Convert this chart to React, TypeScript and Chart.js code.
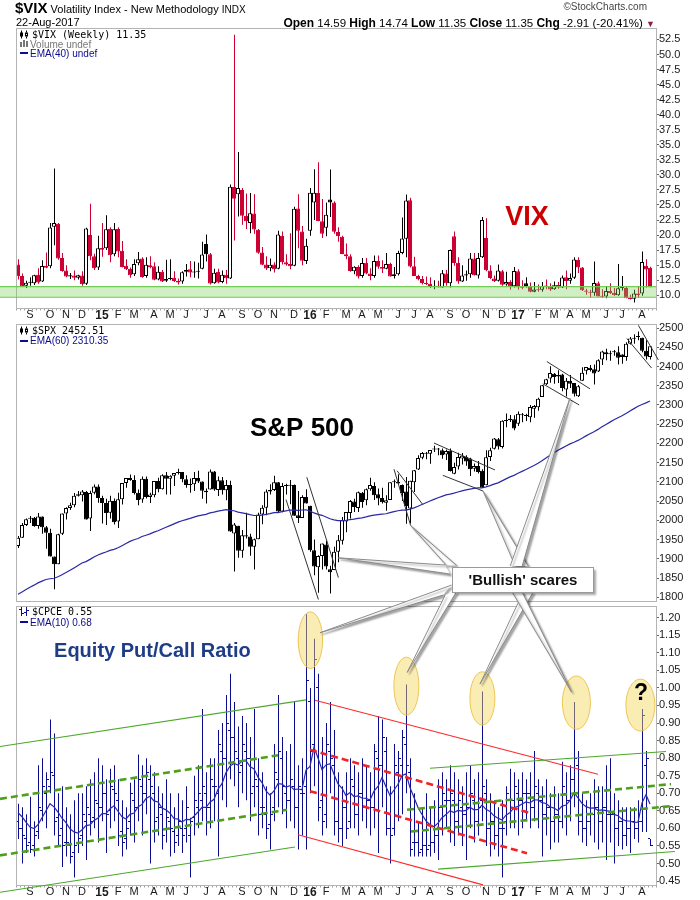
import React, { useEffect, useRef } from 'react';
import { Chart, registerables } from 'chart.js';

Chart.register(...registerables);

const FONT = '"Liberation Sans", Arial, Helvetica, sans-serif';
const MONO = '"DejaVu Sans Mono", "Liberation Mono", monospace';

// ---------- categories ----------
const FIRST_WEEK = Date.UTC(2014, 7, 11);
const WEEK_SLOTS = 160;
const MONTH_INITIALS = ['J', 'F', 'M', 'A', 'M', 'J', 'J', 'A', 'S', 'O', 'N', 'D'];

// ---------- tick labels ----------
const VIX_TICKS = [10, 12.5, 15, 17.5, 20, 22.5, 25, 27.5, 30, 32.5, 35, 37.5, 40, 42.5, 45, 47.5, 50, 52.5];
const SPX_TICKS = [1800, 1850, 1900, 1950, 2000, 2050, 2100, 2150, 2200, 2250, 2300, 2350, 2400, 2450, 2500];
const CPCE_TICKS = [0.45, 0.5, 0.55, 0.6, 0.65, 0.7, 0.75, 0.8, 0.85, 0.9, 0.95, 1.0, 1.05, 1.1, 1.15, 1.2];

// ---------- $VIX weekly ----------
const VIX_PREV_CLOSE = 15.77;
const VIX_OPEN = [
  15.1, 13.2, 11.6, 12.1, 12.0, 13.4, 12.3, 14.9, 14.8, 21.4,
  21.9, 16.2, 14.1, 13.1, 13.3, 12.9, 13.3, 11.9, 20.0, 16.5,
  14.6, 17.9, 17.8, 21.0, 16.8, 21.0, 17.4, 14.9, 14.4, 13.5,
  15.3, 16.1, 13.2, 15.0, 14.8, 12.6, 13.9, 12.4, 12.7, 12.9,
  12.4, 12.3, 13.9, 14.3, 13.8, 13.9, 14.4, 18.5, 16.8, 12.0,
  13.9, 12.2, 13.4, 12.8, 28.0, 26.8, 27.5, 23.2, 22.0, 23.6,
  20.9, 17.1, 15.1, 14.5, 15.1, 14.4, 19.9, 15.5, 15.2, 14.9,
  24.4, 20.6, 15.7, 20.7, 25.4, 27.0, 22.3, 21.2, 25.9, 25.4,
  20.5, 19.7, 16.8, 16.5, 14.0, 14.7, 13.2, 15.4, 13.6, 13.2,
  15.7, 14.7, 14.4, 15.2, 13.2, 13.5, 17.0, 19.4, 25.8, 14.8,
  13.2, 12.7, 12.0, 11.9, 11.4, 11.6, 11.3, 13.6, 12.0, 19.8,
  15.4, 12.3, 13.3, 13.5, 16.1, 13.3, 16.3, 19.5, 14.1, 12.8,
  12.4, 14.0, 11.8, 12.2, 11.5, 14.0, 11.4, 12.0, 11.5, 10.6,
  11.0, 10.9, 11.5, 11.5, 11.0, 11.7, 11.3, 13.0, 12.4, 12.9,
  15.9, 14.6, 10.8, 10.6, 10.4, 12.0, 9.8, 9.8, 10.7, 10.4,
  10.0, 11.2, 11.2, 9.5, 9.4, 10.3, 10.3, 14.9, 14.59,
];
const VIX_HIGH = [
  16.0, 13.6, 12.4, 13.0, 13.4, 14.5, 15.8, 17.1, 22.0, 31.06,
  22.0, 17.0, 15.0, 13.7, 14.1, 13.4, 14.0, 21.2, 25.2, 16.9,
  19.9, 22.0, 23.3, 21.3, 22.0, 21.3, 19.0, 16.0, 14.6, 16.0,
  17.2, 16.3, 16.3, 16.5, 15.5, 14.8, 14.2, 15.9, 16.0, 14.0,
  12.8, 14.0, 15.2, 15.7, 15.6, 15.4, 18.9, 20.1, 17.0, 14.4,
  14.4, 14.1, 14.2, 28.4, 53.29, 33.8, 27.8, 26.9, 27.0, 26.8,
  21.0, 18.0, 16.5, 16.1, 15.5, 20.7, 20.6, 16.8, 20.3, 24.7,
  26.8, 21.5, 19.4, 27.8, 30.95, 32.09, 26.0, 25.4, 30.9, 25.6,
  21.3, 19.9, 18.6, 16.8, 14.8, 15.0, 16.2, 16.2, 14.5, 16.6,
  16.6, 15.8, 17.0, 15.4, 14.7, 17.4, 22.9, 26.72, 26.2, 16.4,
  13.4, 13.2, 13.1, 13.0, 12.5, 12.4, 14.2, 14.2, 17.6, 20.6,
  16.3, 15.0, 14.1, 17.0, 17.0, 17.0, 23.0, 22.8, 15.0, 13.3,
  15.1, 14.2, 13.9, 12.5, 14.7, 14.3, 12.5, 13.0, 12.1, 12.2,
  11.8, 12.2, 12.6, 12.0, 12.3, 12.2, 13.3, 14.1, 13.6, 16.3,
  16.3, 14.7, 11.1, 10.9, 15.6, 12.3, 11.0, 11.5, 12.0, 11.2,
  15.2, 13.2, 11.5, 10.1, 10.9, 11.5, 17.28, 16.0, 14.74,
];
const VIX_LOW = [
  12.6, 11.4, 11.2, 11.6, 11.7, 11.9, 12.2, 14.5, 14.5, 18.3,
  15.9, 13.9, 13.0, 12.7, 12.5, 12.6, 11.6, 11.7, 15.8, 14.2,
  14.2, 16.4, 17.5, 15.5, 16.5, 16.3, 14.6, 14.2, 12.9, 13.2,
  15.0, 12.9, 12.9, 14.5, 12.5, 12.5, 12.2, 12.2, 12.5, 12.2,
  11.8, 11.9, 13.1, 13.0, 12.9, 12.8, 14.3, 15.6, 11.8, 11.9,
  12.0, 12.0, 11.9, 12.7, 19.1, 23.1, 21.7, 21.0, 20.3, 20.2,
  16.9, 15.0, 14.2, 14.0, 13.8, 14.3, 15.1, 14.9, 14.3, 14.8,
  17.8, 15.0, 15.2, 19.9, 22.5, 22.3, 19.5, 19.8, 23.0, 20.2,
  18.9, 16.8, 16.0, 13.9, 13.5, 12.8, 12.9, 13.5, 12.5, 12.9,
  14.4, 13.7, 14.3, 13.1, 12.8, 13.3, 16.8, 16.3, 14.6, 13.2,
  12.5, 11.8, 11.7, 11.2, 11.0, 11.3, 11.3, 11.6, 11.3, 14.9,
  11.9, 12.2, 12.4, 12.9, 13.3, 12.8, 16.2, 14.0, 12.7, 12.2,
  12.3, 11.6, 11.6, 10.9, 11.3, 10.9, 11.0, 11.3, 10.5, 10.5,
  10.6, 10.6, 11.0, 10.7, 10.9, 11.1, 11.2, 11.0, 11.9, 12.7,
  13.7, 10.7, 10.1, 9.6, 9.9, 9.8, 9.6, 9.5, 10.2, 9.9,
  9.9, 10.8, 9.5, 9.3, 8.8, 9.6, 9.9, 11.3, 11.35,
];
const VIX_CLOSE = [
  13.15, 11.47, 12.09, 12.09, 13.31, 12.11, 14.85, 14.55, 21.24, 21.99,
  16.11, 14.03, 13.12, 13.31, 12.90, 13.33, 11.82, 21.08, 16.49, 14.50,
  17.79, 17.55, 20.95, 16.66, 20.97, 17.29, 14.69, 14.30, 13.34, 15.20,
  16.00, 13.02, 15.07, 14.67, 12.58, 13.89, 12.29, 12.70, 12.86, 12.38,
  12.13, 13.84, 14.21, 13.78, 13.96, 14.02, 16.79, 16.83, 11.95, 13.74,
  12.12, 13.39, 12.83, 28.03, 26.05, 27.80, 23.20, 22.28, 23.62, 20.94,
  17.08, 15.05, 14.46, 15.07, 14.33, 20.08, 15.47, 15.12, 14.81, 24.39,
  20.70, 15.74, 18.21, 27.01, 27.02, 22.34, 20.20, 23.38, 25.40, 20.53,
  19.81, 16.86, 16.50, 14.02, 14.74, 13.10, 15.36, 13.62, 13.22, 15.70,
  14.72, 14.41, 15.20, 13.12, 13.47, 17.03, 19.41, 25.76, 14.77, 13.20,
  12.67, 12.02, 11.87, 11.39, 11.55, 11.34, 13.65, 11.98, 17.50, 15.37,
  12.29, 13.29, 13.48, 16.12, 13.34, 16.19, 22.51, 14.17, 12.85, 12.34,
  14.12, 11.75, 12.20, 11.44, 14.04, 11.32, 11.23, 11.54, 10.58, 10.97,
  10.85, 11.49, 11.47, 10.96, 11.66, 11.28, 12.96, 12.37, 12.87, 15.96,
  14.63, 10.82, 10.57, 10.40, 12.04, 9.81, 9.75, 10.70, 10.38, 10.02,
  11.18, 11.19, 9.51, 9.36, 10.29, 10.03, 15.51, 14.26, 11.35,
];
const VIX_BAND = [9.67, 11.43];

// ---------- $SPX weekly ----------
const SPX_EMA_SEED = 1808;
const SPX_OPEN = [
  1933, 1955, 1988, 2004, 2007, 1985, 2010, 1982, 1968, 1906,
  1886, 1965, 2018, 2032, 2039, 2064, 2065, 2074, 2005, 2072,
  2088, 2058, 2045, 2020, 2050, 1997, 2055, 2097, 2110, 2105,
  2072, 2054, 2108, 2061, 2065, 2102, 2081, 2117, 2108, 2116,
  2123, 2126, 2107, 2092, 2094, 2110, 2101, 2073, 2080, 2127,
  2079, 2104, 2078, 2092, 1966, 1986, 1921, 1961, 1958, 1931,
  1951, 2015, 2033, 2075, 2079, 2099, 2023, 2089, 2090, 2092,
  2013, 2006, 2061, 2038, 1922, 1878, 1907, 1937, 1873, 1871,
  1918, 1947, 1997, 2019, 2049, 2032, 2072, 2052, 2081, 2089,
  2068, 2058, 2046, 2053, 2100, 2100, 2092, 2075, 2031, 2099,
  2132, 2163, 2176, 2173, 2184, 2185, 2182, 2171, 2181, 2121,
  2140, 2161, 2165, 2161, 2134, 2141, 2129, 2091, 2165, 2186,
  2211, 2191, 2259, 2260, 2263, 2251, 2273, 2272, 2268, 2290,
  2294, 2321, 2354, 2369, 2381, 2374, 2379, 2340, 2363, 2357,
  2323, 2363, 2389, 2397, 2393, 2387, 2418, 2437, 2432, 2437,
  2437, 2431, 2425, 2459, 2473, 2477, 2475, 2441, 2425,
];
const SPX_HIGH = [
  1959, 1993, 2005, 2011, 2009, 2019, 2010, 1985, 1978, 1906,
  1965, 2018, 2034, 2046, 2071, 2076, 2079, 2076, 2077, 2093,
  2093, 2064, 2056, 2064, 2057, 2072, 2097, 2110, 2119, 2117,
  2080, 2114, 2114, 2072, 2102, 2111, 2120, 2126, 2117, 2123,
  2134, 2126, 2117, 2109, 2126, 2129, 2101, 2083, 2132, 2128,
  2114, 2113, 2105, 2103, 1993, 1986, 1975, 2020, 1965, 1953,
  2020, 2039, 2080, 2094, 2116, 2100, 2097, 2095, 2105, 2093,
  2076, 2065, 2081, 2038, 1950, 1909, 1940, 1947, 1882, 1931,
  1962, 2009, 2022, 2053, 2056, 2075, 2074, 2083, 2111, 2099,
  2083, 2085, 2065, 2099, 2106, 2120, 2093, 2113, 2103, 2131,
  2169, 2178, 2178, 2183, 2194, 2188, 2187, 2184, 2187, 2150,
  2176, 2175, 2169, 2163, 2148, 2154, 2133, 2182, 2189, 2214,
  2214, 2260, 2278, 2274, 2273, 2283, 2279, 2277, 2300, 2300,
  2319, 2352, 2368, 2401, 2383, 2390, 2381, 2370, 2378, 2357,
  2352, 2398, 2399, 2404, 2405, 2419, 2441, 2446, 2441, 2443,
  2453, 2432, 2463, 2477, 2484, 2491, 2475, 2468, 2453,
];
const SPX_LOW = [
  1928, 1955, 1985, 1993, 1983, 1978, 1965, 1926, 1906, 1821,
  1886, 1962, 2002, 2027, 2034, 2062, 2049, 2002, 1972, 2068,
  2046, 1992, 1988, 2005, 1989, 1980, 2041, 2085, 2103, 2067,
  2039, 2046, 2057, 2045, 2060, 2073, 2080, 2067, 2067, 2089,
  2119, 2099, 2085, 2072, 2076, 2097, 2056, 2044, 2080, 2077,
  2063, 2067, 2052, 1970, 1867, 1903, 1903, 1953, 1908, 1872,
  1951, 1990, 2013, 2067, 2076, 2022, 2021, 2067, 2042, 2012,
  1993, 2006, 2044, 1918, 1857, 1812, 1872, 1872, 1810, 1871,
  1891, 1937, 1969, 2005, 2022, 2022, 2033, 2039, 2077, 2053,
  2039, 2044, 2025, 2053, 2085, 2095, 2050, 1991, 1992, 2074,
  2131, 2159, 2159, 2147, 2178, 2169, 2160, 2157, 2127, 2120,
  2132, 2145, 2142, 2115, 2127, 2122, 2084, 2091, 2154, 2184,
  2184, 2187, 2242, 2256, 2234, 2245, 2255, 2258, 2255, 2267,
  2285, 2321, 2352, 2358, 2355, 2357, 2336, 2322, 2344, 2322,
  2321, 2363, 2379, 2387, 2353, 2386, 2404, 2416, 2415, 2428,
  2405, 2407, 2415, 2457, 2459, 2468, 2437, 2418, 2418,
];
const SPX_CLOSE = [
  1955, 1988, 2003, 2007, 1985, 2010, 1982, 1968, 1906, 1886,
  1964, 2018, 2032, 2039, 2064, 2068, 2075, 2002, 2071, 2088,
  2058, 2045, 2019, 2051, 1995, 2055, 2097, 2110, 2105, 2071,
  2053, 2108, 2061, 2067, 2102, 2081, 2117, 2108, 2116, 2123,
  2126, 2107, 2092, 2094, 2110, 2101, 2077, 2077, 2127, 2080,
  2104, 2078, 2092, 1971, 1989, 1921, 1961, 1958, 1931, 1951,
  2015, 2033, 2075, 2079, 2099, 2023, 2089, 2090, 2092, 2012,
  2006, 2061, 2044, 1922, 1880, 1907, 1940, 1880, 1865, 1918,
  1948, 2000, 2022, 2050, 2035, 2073, 2048, 2081, 2092, 2065,
  2057, 2047, 2052, 2099, 2099, 2096, 2071, 2037, 2103, 2130,
  2162, 2175, 2173, 2183, 2184, 2184, 2169, 2180, 2128, 2139,
  2165, 2168, 2153, 2133, 2141, 2126, 2085, 2164, 2182, 2213,
  2192, 2259, 2258, 2264, 2239, 2277, 2275, 2271, 2295, 2297,
  2316, 2351, 2367, 2383, 2373, 2378, 2344, 2363, 2355, 2329,
  2349, 2384, 2399, 2391, 2382, 2416, 2439, 2432, 2433, 2438,
  2423, 2425, 2459, 2473, 2472, 2477, 2441, 2426, 2452.51,
];

// ---------- $CPCE weekly ----------
const CPCE_EMA_SEED = 0.645;
const CPCE_OPEN = [
  0.62, 0.60, 0.57, 0.56, 0.55, 0.59, 0.65, 0.70, 0.72, 0.75,
  0.63, 0.60, 0.56, 0.55, 0.53, 0.56, 0.58, 0.62, 0.64, 0.63,
  0.67, 0.66, 0.70, 0.65, 0.71, 0.68, 0.59, 0.57, 0.62, 0.68,
  0.66, 0.72, 0.70, 0.74, 0.70, 0.63, 0.64, 0.60, 0.62, 0.59,
  0.58, 0.60, 0.60, 0.58, 0.63, 0.66, 0.68, 0.70, 0.66, 0.72,
  0.70, 0.82, 0.80, 0.88, 0.86, 0.80, 0.78, 0.82, 0.80, 0.72,
  0.72, 0.66, 0.64, 0.61, 0.66, 0.74, 0.80, 0.70, 0.68, 0.72,
  0.66, 0.70, 0.72, 0.96, 0.84, 1.00, 0.68, 0.64, 0.82, 0.78,
  0.62, 0.60, 0.66, 0.62, 0.72, 0.64, 0.70, 0.66, 0.68, 0.66,
  0.80, 0.78, 0.82, 0.60, 0.60, 0.76, 0.78, 0.84, 0.76, 0.56,
  0.56, 0.54, 0.55, 0.55, 0.56, 0.58, 0.66, 0.68, 0.68, 0.68,
  0.62, 0.66, 0.64, 0.66, 0.68, 0.62, 0.68, 0.70, 0.60, 0.62,
  0.58, 0.60, 0.62, 0.68, 0.68, 0.70, 0.68, 0.70, 0.70, 0.66,
  0.70, 0.68, 0.64, 0.66, 0.62, 0.64, 0.62, 0.70, 0.68, 0.74,
  0.78, 0.62, 0.60, 0.62, 0.64, 0.66, 0.62, 0.66, 0.64, 0.64,
  0.60, 0.62, 0.58, 0.60, 0.62, 0.60, 0.62, 0.78, 0.57,
];
const CPCE_HIGH = [
  0.67, 0.66, 0.64, 0.69, 0.62, 0.78, 0.80, 0.76, 0.91, 0.87,
  0.70, 0.72, 0.66, 0.64, 0.68, 0.70, 0.70, 0.72, 0.74, 0.76,
  0.80, 0.78, 0.74, 0.77, 0.78, 0.74, 0.68, 0.66, 0.73, 0.74,
  0.81, 0.78, 0.80, 0.78, 0.76, 0.72, 0.70, 0.74, 0.70, 0.66,
  0.70, 0.68, 0.72, 0.63, 0.75, 0.78, 0.94, 0.76, 0.80, 0.80,
  0.88, 0.90, 0.98, 1.04, 0.96, 0.89, 0.92, 0.90, 0.86, 0.94,
  0.80, 0.76, 0.72, 0.70, 0.84, 0.98, 0.86, 0.82, 0.84, 0.96,
  0.78, 0.80, 1.21, 1.00, 1.14, 1.04, 0.86, 0.90, 0.96, 0.88,
  0.76, 0.72, 0.76, 0.80, 0.78, 0.76, 0.80, 0.78, 0.76, 0.84,
  0.92, 0.91, 0.86, 0.72, 0.84, 0.82, 0.88, 1.01, 0.80, 0.70,
  0.62, 0.66, 0.70, 0.66, 0.68, 0.74, 0.76, 0.74, 0.78, 0.76,
  0.74, 0.72, 0.76, 0.78, 0.74, 0.76, 0.99, 0.74, 0.70, 0.68,
  0.66, 0.68, 0.72, 0.77, 0.76, 0.74, 0.76, 0.74, 0.76, 0.82,
  0.74, 0.72, 0.74, 0.70, 0.72, 0.70, 0.79, 0.76, 0.78, 0.96,
  0.82, 0.70, 0.68, 0.70, 0.74, 0.72, 0.72, 0.78, 0.80, 0.70,
  0.68, 0.66, 0.66, 0.66, 0.66, 0.68, 0.94, 0.82, 0.57,
];
const CPCE_LOW = [
  0.57, 0.50, 0.53, 0.53, 0.52, 0.57, 0.62, 0.60, 0.70, 0.58,
  0.55, 0.49, 0.52, 0.50, 0.46, 0.53, 0.55, 0.51, 0.58, 0.60,
  0.56, 0.62, 0.53, 0.60, 0.62, 0.55, 0.52, 0.54, 0.58, 0.56,
  0.62, 0.58, 0.64, 0.50, 0.56, 0.58, 0.54, 0.56, 0.52, 0.53,
  0.55, 0.53, 0.56, 0.46, 0.58, 0.60, 0.62, 0.58, 0.60, 0.62,
  0.52, 0.68, 0.66, 0.74, 0.72, 0.66, 0.70, 0.68, 0.62, 0.66,
  0.58, 0.60, 0.57, 0.54, 0.62, 0.66, 0.64, 0.60, 0.62, 0.60,
  0.54, 0.58, 0.54, 0.70, 0.72, 0.62, 0.58, 0.60, 0.70, 0.58,
  0.56, 0.55, 0.57, 0.60, 0.60, 0.58, 0.62, 0.60, 0.58, 0.60,
  0.53, 0.66, 0.58, 0.50, 0.58, 0.62, 0.64, 0.70, 0.52, 0.52,
  0.52, 0.52, 0.52, 0.52, 0.53, 0.51, 0.58, 0.60, 0.56, 0.55,
  0.58, 0.55, 0.51, 0.60, 0.56, 0.58, 0.62, 0.55, 0.52, 0.54,
  0.52, 0.46, 0.58, 0.60, 0.60, 0.58, 0.60, 0.62, 0.60, 0.62,
  0.60, 0.52, 0.58, 0.54, 0.56, 0.56, 0.60, 0.58, 0.62, 0.66,
  0.58, 0.56, 0.55, 0.58, 0.56, 0.54, 0.56, 0.51, 0.56, 0.50,
  0.55, 0.54, 0.55, 0.53, 0.57, 0.56, 0.59, 0.59, 0.55,
];
const CPCE_CLOSE = [
  0.60, 0.58, 0.55, 0.54, 0.58, 0.66, 0.72, 0.74, 0.76, 0.62,
  0.58, 0.55, 0.56, 0.52, 0.55, 0.57, 0.64, 0.66, 0.62, 0.68,
  0.66, 0.70, 0.64, 0.72, 0.70, 0.58, 0.56, 0.60, 0.70, 0.66,
  0.74, 0.70, 0.76, 0.72, 0.62, 0.66, 0.58, 0.63, 0.60, 0.56,
  0.62, 0.58, 0.66, 0.62, 0.68, 0.70, 0.72, 0.66, 0.74, 0.72,
  0.84, 0.80, 0.90, 0.86, 0.82, 0.76, 0.84, 0.80, 0.70, 0.74,
  0.64, 0.66, 0.60, 0.64, 0.76, 0.82, 0.72, 0.68, 0.74, 0.66,
  0.72, 0.70, 1.02, 0.82, 1.08, 0.66, 0.62, 0.84, 0.80, 0.62,
  0.60, 0.66, 0.60, 0.74, 0.64, 0.70, 0.66, 0.68, 0.66, 0.82,
  0.78, 0.86, 0.60, 0.58, 0.78, 0.80, 0.86, 0.78, 0.54, 0.56,
  0.53, 0.55, 0.54, 0.56, 0.58, 0.66, 0.70, 0.68, 0.70, 0.62,
  0.68, 0.64, 0.66, 0.70, 0.62, 0.66, 0.72, 0.60, 0.62, 0.58,
  0.60, 0.60, 0.70, 0.68, 0.72, 0.68, 0.70, 0.70, 0.66, 0.72,
  0.68, 0.64, 0.66, 0.62, 0.64, 0.62, 0.72, 0.68, 0.74, 0.80,
  0.62, 0.60, 0.62, 0.64, 0.66, 0.62, 0.66, 0.64, 0.64, 0.60,
  0.62, 0.58, 0.60, 0.62, 0.60, 0.62, 0.92, 0.80, 0.55,
];

// ---------- annotations (data coordinates: week index, value) ----------
const SPX_TRENDLINES = [
  [67, 2054, 75.1, 1794], [72.2, 2112, 80.1, 1851],
  [94, 2133, 98.2, 1985], [94.75, 2129, 101.2, 2041],
  [104, 2201, 119.25, 2131], [106.2, 2117, 116.3, 2076],
  [132.2, 2413, 143, 2342], [131.2, 2355, 140.3, 2300],
  [155.1, 2507, 160.1, 2417], [152.2, 2473, 158.4, 2396],
];
const CPCE_CHANNELS = [
  { p: [-4.5, 0.833, 72, 0.966], c: '#4ca82a', d: false },
  { p: [-4.5, 0.418, 69.25, 0.547], c: '#4ca82a', d: false },
  { p: [-4.5, 0.684, 65, 0.808], c: '#4f9f1a', d: true },
  { p: [-4.5, 0.523, 67.25, 0.653], c: '#4f9f1a', d: true },
  { p: [74.25, 0.965, 145, 0.754], c: '#ff2b2b', d: false },
  { p: [70, 0.582, 116.25, 0.439], c: '#ff2b2b', d: false },
  { p: [73, 0.824, 128, 0.644], c: '#f02424', d: true },
  { p: [73, 0.706, 127.25, 0.529], c: '#f02424', d: true },
  { p: [103, 0.771, 162, 0.819], c: '#4ca82a', d: false },
  { p: [105, 0.484, 164.25, 0.534], c: '#4ca82a', d: false },
  { p: [97.25, 0.653, 163.25, 0.726], c: '#4f9f1a', d: true },
  { p: [98.25, 0.591, 163.75, 0.664], c: '#4f9f1a', d: true },
];
const CPCE_ELLIPSES = [
  { i: 73.1, v: 1.136, rx: 12.2, ry: 28.3 },
  { i: 97.1, v: 1.005, rx: 12.5, ry: 29 },
  { i: 116.1, v: 0.97, rx: 12.5, ry: 26.7 },
  { i: 139.6, v: 0.958, rx: 14, ry: 26.7 },
  { i: 155.6, v: 0.951, rx: 14.5, ry: 26 },
];
const CALLOUT_BOX = { i: 126.05, v: 1847.4, w: 141, h: 25, text: "'Bullish' scares" };
const CALLOUT_POINTERS = [
  { panel: 'spx', i: 80.1, v: 1902.5, b: [[-77, -14], [-72, -5]] },
  { panel: 'spx', i: 98, v: 1988, b: [[-75.5, -13.5], [-65.5, -13.5]] },
  { panel: 'spx', i: 116.3, v: 2075.6, b: [[-7, -13], [6, -13]] },
  { panel: 'spx', i: 138, v: 2318, b: [[-12, -13], [0, -13]] },
  { panel: 'cpce', i: 75.5, v: 1.157, b: [[-79, 16], [-70.5, 6]] },
  { panel: 'cpce', i: 97.3, v: 1.044, b: [[-77, 16], [-65.5, 12.5]] },
  { panel: 'cpce', i: 115.5, v: 1.011, b: [[1, 13], [11, 13]] },
  { panel: 'cpce', i: 138.4, v: 0.988, b: [[-10, 13], [0, 13]] },
];
const PANEL_TITLES = [
  { panel: 'vix', i: 127.25, v: 22.84, text: 'VIX', size: 27, color: '#cc0000' },
  { panel: 'spx', i: 71, v: 2239, text: 'S&P 500', size: 26, color: '#000000' },
  { panel: 'cpce', i: 33.6, v: 1.105, text: 'Equity Put/Call Ratio', size: 20, color: '#1f3d86' },
  { panel: 'cpce', i: 155.75, v: 0.983, text: '?', size: 23, color: '#000000' },
];

// ---------- layout ----------
const VIX_TOP = 22;
const SPX_TOP = 318;
const CPCE_TOP = 600;
const RED = '#cc0033';
const NAVY = '#0c0c8e';
const EMA_COLOR = '#2a2aa6';

const WEEK_STARTS = Array.from({ length: WEEK_SLOTS }, (_, i) => new Date(FIRST_WEEK + i * 7 * 86400000));
const WEEK_LABELS = WEEK_STARTS.map((d) => d.toISOString().slice(0, 10));
const MONTH_TICKS = WEEK_STARTS.map((d, i) => {
  if (i === 0 || d.getUTCMonth() === WEEK_STARTS[i - 1].getUTCMonth()) return '';
  return d.getUTCMonth() === 0 ? String(d.getUTCFullYear() % 100) : MONTH_INITIALS[d.getUTCMonth()];
});

function ema(values: number[], period: number, seed: number) {
  const k = 2 / (period + 1);
  const out: number[] = [];
  values.forEach((v, i) => {
    out.push(i === 0 ? seed : out[i - 1] + k * (v - out[i - 1]));
  });
  return out;
}

const panelBorder = {
  id: 'panelBorder',
  afterDraw(chart: any) {
    const { ctx, chartArea: a } = chart;
    const x0 = Math.floor(a.left) + 0.5;
    const x1 = Math.floor(a.right) + 0.5;
    const y0 = Math.floor(a.top) + 0.5;
    const y1 = Math.floor(a.bottom) + 0.5;
    ctx.save();
    ctx.strokeStyle = '#b4b4b4';
    ctx.lineWidth = 1;
    ctx.strokeRect(x0, y0, x1 - x0, y1 - y0);
    ctx.restore();
  },
};

function xAxis(show: boolean, height: number) {
  return {
    type: 'category',
    display: show,
    offset: true,
    grid: { display: true, drawOnChartArea: false, drawTicks: true, tickLength: 2, color: '#a0a0a0', offset: true },
    border: { display: false },
    ticks: {
      autoSkip: false,
      maxRotation: 0,
      minRotation: 0,
      padding: -2,
      color: '#1a1a1a',
      font: (ctx: any) =>
        /^\d/.test(MONTH_TICKS[ctx.index] || '')
          ? { family: FONT, size: 12, weight: 'bold' }
          : { family: FONT, size: 11 },
      callback: (_v: any, i: number) => MONTH_TICKS[i],
    },
    afterFit: (s: any) => {
      s.height = height;
    },
  };
}

// hidden linear twin of the week axis, shifted half a pixel so 1px wicks sit on whole pixels
const WICK_AXIS = {
  type: 'linear',
  display: false,
  offset: false,
  grid: { offset: false },
  min: -0.625,
  max: WEEK_SLOTS - 0.625,
};

function yAxis(min: number, max: number, ticks: number[], digits: number) {
  return {
    type: 'linear',
    position: 'right',
    min,
    max,
    grid: { drawOnChartArea: false, drawTicks: true, tickLength: 3, color: '#666' },
    border: { display: true, color: '#b4b4b4' },
    afterBuildTicks: (s: any) => {
      s.ticks = ticks.map((value) => ({ value }));
    },
    afterFit: (s: any) => {
      s.width = 44;
    },
    ticks: {
      padding: 0,
      color: '#1a1a1a',
      font: { family: FONT, size: 11 },
      callback: (v: any) => Number(v).toFixed(digits),
    },
  };
}

function baseOptions(x: any, y: any, padding: any) {
  return {
    responsive: false,
    animation: false,
    events: [],
    layout: { padding },
    plugins: { legend: { display: false }, tooltip: { enabled: false } },
    scales: { x, xw: WICK_AXIS, y },
  };
}

function candleDatasets(o: number[], h: number[], l: number[], c: number[], colors: string[]) {
  return [
    {
      type: 'bar',
      xAxisID: 'xw',
      data: l.map((lv, i) => ({ x: i, y: [Math.min(lv, o[i], c[i]), Math.max(h[i], o[i], c[i])] })),
      backgroundColor: colors,
      borderWidth: 0,
      barThickness: 1,
      grouped: false,
      inflateAmount: 0,
      order: 3,
    },
    {
      type: 'bar',
      data: o.map((ov, i) => [Math.min(ov, c[i]), Math.max(ov, c[i])]),
      backgroundColor: c.map((cv, i) => (cv < o[i] ? colors[i] : '#ffffff')),
      borderColor: colors,
      borderWidth: 1,
      borderSkipped: false,
      barThickness: 4,
      minBarLength: 1,
      grouped: false,
      inflateAmount: 0,
      order: 2,
    },
  ];
}

function tickImage(left: boolean) {
  const cv = document.createElement('canvas');
  cv.width = 8;
  cv.height = 1;
  const g = cv.getContext('2d')!;
  g.fillStyle = NAVY;
  g.fillRect(left ? 2 : 5, 0, 2, 1);
  return cv;
}

function drawOverlay(canvas: HTMLCanvasElement, vix: any, spx: any, cpce: any) {
  const dpr = window.devicePixelRatio || 1;
  canvas.width = 700 * dpr;
  canvas.height = 900 * dpr;
  canvas.style.width = '700px';
  canvas.style.height = '900px';
  const ctx = canvas.getContext('2d')!;
  ctx.setTransform(dpr, 0, 0, dpr, 0, 0);
  const at = (ch: any, top: number) => (i: number, v: number) => ({
    x: ch.scales.x.getPixelForValue(i),
    y: top + ch.scales.y.getPixelForValue(v),
  });
  const V = at(vix, VIX_TOP);
  const S = at(spx, SPX_TOP);
  const C = at(cpce, CPCE_TOP);
  const P: any = { vix: V, spx: S, cpce: C };
  const seg = (x1: number, y1: number, x2: number, y2: number) => {
    ctx.beginPath();
    ctx.moveTo(x1, y1);
    ctx.lineTo(x2, y2);
    ctx.stroke();
  };

  // VIX support band
  const bt = V(0, VIX_BAND[1]).y;
  const bb = V(0, VIX_BAND[0]).y;
  const right = vix.chartArea.right;
  ctx.fillStyle = 'rgba(120,210,90,0.35)';
  ctx.fillRect(0, bt, right, bb - bt);
  ctx.strokeStyle = 'rgba(110,200,80,0.95)';
  ctx.lineWidth = 1.2;
  seg(0, bt, right, bt);
  seg(0, bb, right, bb);

  // SPX trend lines
  ctx.strokeStyle = '#333';
  ctx.lineWidth = 1;
  SPX_TRENDLINES.forEach(([i1, v1, i2, v2]) => {
    const a = S(i1, v1);
    const b = S(i2, v2);
    seg(a.x, a.y, b.x, b.y);
  });

  // CPCE channels
  CPCE_CHANNELS.forEach((ch) => {
    const a = C(ch.p[0], ch.p[1]);
    const b = C(ch.p[2], ch.p[3]);
    ctx.strokeStyle = ch.c;
    ctx.lineWidth = ch.d ? 2.6 : 1.1;
    ctx.setLineDash(ch.d ? [7, 4] : []);
    seg(a.x, a.y, b.x, b.y);
  });
  ctx.setLineDash([]);

  // highlight ellipses
  CPCE_ELLIPSES.forEach((e) => {
    const c = C(e.i, e.v);
    ctx.beginPath();
    ctx.ellipse(c.x, c.y, e.rx, e.ry, 0, 0, Math.PI * 2);
    ctx.fillStyle = 'rgba(244,216,88,0.45)';
    ctx.fill();
    ctx.strokeStyle = 'rgba(236,192,70,0.9)';
    ctx.lineWidth = 1;
    ctx.stroke();
  });

  // big labels
  PANEL_TITLES.forEach((t) => {
    const c = P[t.panel](t.i, t.v);
    ctx.font = `bold ${t.size}px ${FONT}`;
    ctx.fillStyle = t.color;
    ctx.textAlign = 'center';
    ctx.textBaseline = 'middle';
    ctx.fillText(t.text, c.x, c.y);
  });

  // callout
  const box = S(CALLOUT_BOX.i, CALLOUT_BOX.v);
  const bx = Math.round(box.x - CALLOUT_BOX.w / 2) + 0.5;
  const by = Math.round(box.y - CALLOUT_BOX.h / 2) + 0.5;
  ctx.save();
  ctx.shadowColor = 'rgba(0,0,0,0.35)';
  ctx.shadowOffsetX = 2;
  ctx.shadowOffsetY = 2;
  ctx.shadowBlur = 2;
  CALLOUT_POINTERS.forEach((p) => {
    const tip = P[p.panel](p.i, p.v);
    const b1 = { x: box.x + p.b[0][0], y: box.y + p.b[0][1] };
    const b2 = { x: box.x + p.b[1][0], y: box.y + p.b[1][1] };
    ctx.beginPath();
    ctx.moveTo(b1.x, b1.y);
    ctx.lineTo(tip.x, tip.y);
    ctx.lineTo(b2.x, b2.y);
    ctx.fillStyle = '#ffffff';
    ctx.fill();
    ctx.strokeStyle = '#8a8a8a';
    ctx.lineWidth = 1;
    ctx.stroke();
  });
  ctx.fillStyle = '#ffffff';
  ctx.fillRect(bx, by, CALLOUT_BOX.w, CALLOUT_BOX.h);
  ctx.restore();
  ctx.strokeStyle = '#9a9a9a';
  ctx.lineWidth = 1;
  ctx.strokeRect(bx, by, CALLOUT_BOX.w, CALLOUT_BOX.h);
  ctx.font = `bold 15px ${FONT}`;
  ctx.fillStyle = '#111';
  ctx.textAlign = 'center';
  ctx.textBaseline = 'middle';
  ctx.fillText(CALLOUT_BOX.text, bx + CALLOUT_BOX.w / 2, by + CALLOUT_BOX.h / 2 + 1);

  // legend icons
  const candleIcon = (y: number) => {
    ctx.fillStyle = '#000';
    ctx.fillRect(21, y - 4, 1, 8);
    ctx.fillRect(20, y - 2, 3, 4);
    ctx.fillRect(26, y - 4, 1, 8);
    ctx.fillStyle = '#fff';
    ctx.fillRect(25, y - 2, 3, 4);
    ctx.strokeStyle = '#000';
    ctx.strokeRect(25.5, y - 1.5, 2, 3);
  };
  const emaIcon = (y: number) => {
    ctx.fillStyle = NAVY;
    ctx.fillRect(20, y - 1, 8, 2);
  };
  candleIcon(34.5);
  ctx.fillStyle = '#777';
  ctx.fillRect(20, 42, 2, 5);
  ctx.fillRect(23, 40, 2, 7);
  ctx.fillRect(26, 41, 2, 6);
  emaIcon(53);
  candleIcon(330.5);
  emaIcon(341);
  ctx.fillStyle = NAVY;
  ctx.fillRect(21, 607, 1, 9);
  ctx.fillRect(19, 609, 2, 1);
  ctx.fillRect(22, 613, 2, 1);
  ctx.fillRect(26, 607, 1, 9);
  ctx.fillRect(24, 612, 2, 1);
  ctx.fillRect(27, 610, 2, 1);
  emaIcon(622);
}

function Txt(props: any) {
  const { x, y, right, size, family = FONT, color = '#000', bold = false, children } = props;
  const style: any = {
    position: 'absolute',
    top: y,
    fontFamily: family,
    fontSize: size,
    lineHeight: `${Math.round(size * 1.2)}px`,
    color,
    fontWeight: bold ? 'bold' : 'normal',
    whiteSpace: 'nowrap',
  };
  if (right !== undefined) style.right = right;
  else style.left = x;
  return <div style={style}>{children}</div>;
}

export default function App() {
  const vixRef = useRef<HTMLCanvasElement>(null);
  const spxRef = useRef<HTMLCanvasElement>(null);
  const cpceRef = useRef<HTMLCanvasElement>(null);
  const ovRef = useRef<HTMLCanvasElement>(null);

  useEffect(() => {
    const vixColors = VIX_CLOSE.map((c, i) => (c < (i === 0 ? VIX_PREV_CLOSE : VIX_CLOSE[i - 1]) ? RED : '#000000'));
    const spxColors = SPX_CLOSE.map(() => '#000000');
    const spxEma = ema(SPX_CLOSE, 60, SPX_EMA_SEED);
    const cpceEma = ema(CPCE_CLOSE, 10, CPCE_EMA_SEED);

    const vix = new Chart(vixRef.current as any, {
      type: 'bar',
      data: { labels: WEEK_LABELS, datasets: candleDatasets(VIX_OPEN, VIX_HIGH, VIX_LOW, VIX_CLOSE, vixColors) as any },
      options: baseOptions(xAxis(true, 13.5), yAxis(7.8, 54.3, VIX_TICKS, 1), { left: 16, top: 6.5, right: 0, bottom: 0 }) as any,
      plugins: [panelBorder],
    });

    const spx = new Chart(spxRef.current as any, {
      type: 'bar',
      data: {
        labels: WEEK_LABELS,
        datasets: [
          ...candleDatasets(SPX_OPEN, SPX_HIGH, SPX_LOW, SPX_CLOSE, spxColors),
          { type: 'line', data: spxEma, borderColor: EMA_COLOR, borderWidth: 1.2, pointRadius: 0, tension: 0, order: 1 },
        ] as any,
      },
      options: baseOptions(xAxis(false, 0), yAxis(1789.2, 2509, SPX_TICKS, 0), { left: 16, top: 4.5, right: 0, bottom: 4.5 }) as any,
      plugins: [panelBorder],
    });

    const cpce = new Chart(cpceRef.current as any, {
      type: 'bar',
      data: {
        labels: WEEK_LABELS,
        datasets: [
          {
            type: 'bar',
            xAxisID: 'xw',
            data: CPCE_LOW.map((l, i) => ({ x: i, y: [l, CPCE_HIGH[i]] })),
            backgroundColor: NAVY,
            borderWidth: 0,
            barThickness: 1,
            grouped: false,
            inflateAmount: 0,
            order: 3,
          },
          { type: 'line', data: CPCE_OPEN, showLine: false, pointStyle: tickImage(true), pointRadius: 2, order: 2 },
          { type: 'line', data: CPCE_CLOSE, showLine: false, pointStyle: tickImage(false), pointRadius: 2, order: 2 },
          { type: 'line', data: cpceEma, borderColor: EMA_COLOR, borderWidth: 1.2, pointRadius: 0, tension: 0, order: 1 },
        ] as any,
      },
      options: baseOptions(xAxis(true, 14.5), yAxis(0.4373, 1.2315, CPCE_TICKS, 2), { left: 16, top: 3.5, right: 0, bottom: 0 }) as any,
      plugins: [panelBorder],
    });

    if (ovRef.current) drawOverlay(ovRef.current, vix, spx, cpce);

    return () => {
      vix.destroy();
      spx.destroy();
      cpce.destroy();
    };
  }, []);

  return (
    <div style={{ position: 'absolute', left: 0, top: 0, width: 700, height: 900, background: '#fff', overflow: 'hidden' }}>
      <canvas ref={vixRef} width={700} height={300} style={{ position: 'absolute', left: 0, top: VIX_TOP }} />
      <canvas ref={spxRef} width={700} height={290} style={{ position: 'absolute', left: 0, top: SPX_TOP }} />
      <canvas ref={cpceRef} width={700} height={300} style={{ position: 'absolute', left: 0, top: CPCE_TOP }} />
      <canvas ref={ovRef} width={700} height={900} style={{ position: 'absolute', left: 0, top: 0, pointerEvents: 'none' }} />

      <div style={{ position: 'absolute', left: 15, top: 0, whiteSpace: 'nowrap', fontFamily: FONT, fontSize: 15, lineHeight: '16px', color: '#000' }}>
        <span style={{ fontWeight: 'bold' }}>$VIX</span>
        <span style={{ fontSize: 11 }}> Volatility Index - New Methodology </span>
        <span style={{ fontSize: 10 }}>INDX</span>
      </div>
      <Txt x={16} y={16} size={11}>22-Aug-2017</Txt>
      <Txt right={45} y={15.5} size={11.5}>
        <b style={{ fontSize: 12 }}>Open</b> 14.59 <b style={{ fontSize: 12 }}>High</b> 14.74{' '}
        <b style={{ fontSize: 12 }}>Low</b> 11.35 <b style={{ fontSize: 12 }}>Close</b> 11.35{' '}
        <b style={{ fontSize: 12 }}>Chg</b> -2.91 (-20.41%) <span style={{ color: '#8a2040', fontSize: 9 }}>▼</span>
      </Txt>
      <Txt right={53} y={0.5} size={10} color="#444">©StockCharts.com</Txt>

      <Txt x={32} y={29} size={10} family={MONO}>$VIX (Weekly) 11.35</Txt>
      <Txt x={30} y={39} size={10} color="#777">Volume undef</Txt>
      <Txt x={30} y={47.5} size={10} color={NAVY}>EMA(40) undef</Txt>

      <Txt x={32} y={325} size={10} family={MONO}>$SPX 2452.51</Txt>
      <Txt x={30} y={335} size={10} color={NAVY}>EMA(60) 2310.35</Txt>

      <Txt x={32} y={606} size={10} family={MONO}>$CPCE 0.55</Txt>
      <Txt x={30} y={616.5} size={10} color={NAVY}>EMA(10) 0.68</Txt>
    </div>
  );
}
